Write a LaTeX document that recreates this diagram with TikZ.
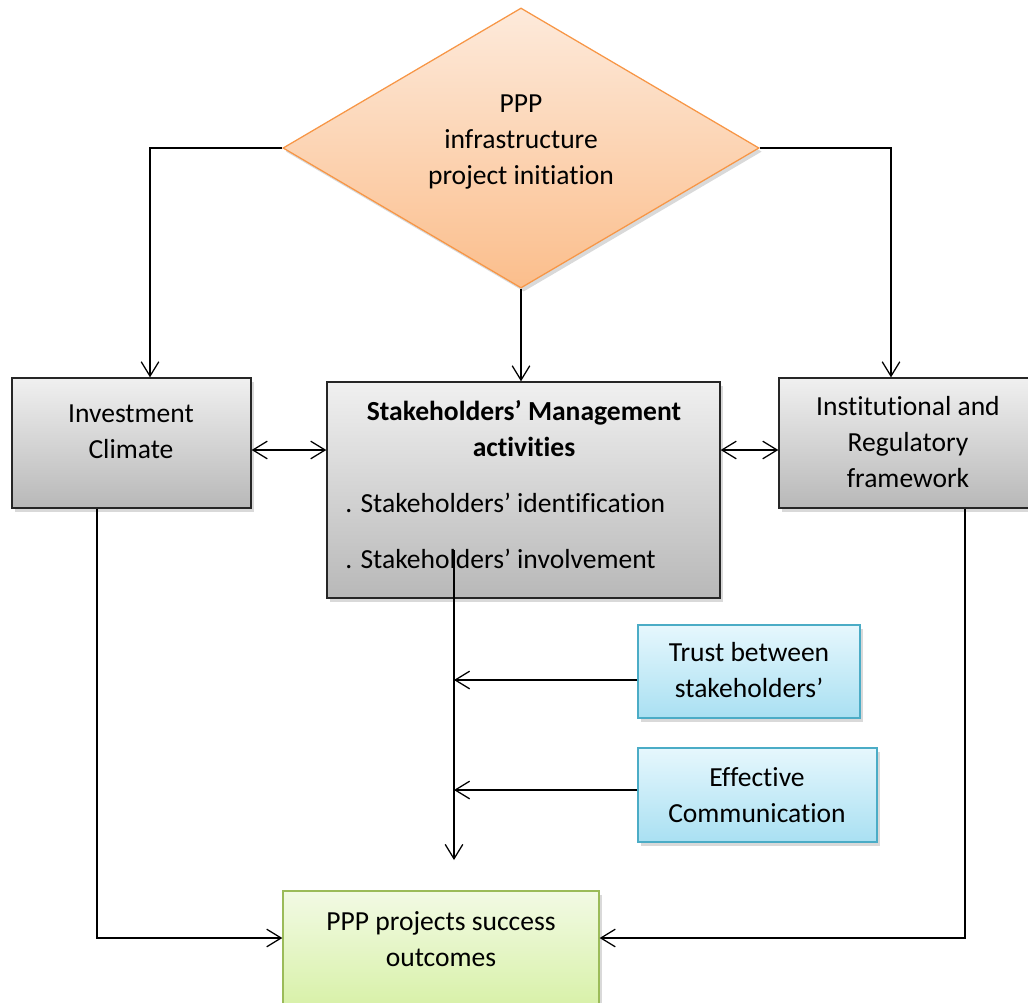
\documentclass[tikz,border=0pt]{standalone}
\usepackage{fontspec}
\setmainfont{Carlito}[Ligatures={NoCommon}]
\usetikzlibrary{arrows.meta,shapes.geometric,shadows}
\definecolor{peachtop}{HTML}{FDEADB}
\definecolor{peachbot}{HTML}{FBBE8C}
\definecolor{peachline}{HTML}{F79646}
\definecolor{graytop}{HTML}{F0F0F0}
\definecolor{graybot}{HTML}{B8B8B8}
\definecolor{bluetop}{HTML}{E6F7FD}
\definecolor{bluebot}{HTML}{A9E0F2}
\definecolor{blueline}{HTML}{4BACC6}
\definecolor{greentop}{HTML}{F2FAE4}
\definecolor{greenbot}{HTML}{D6F0A4}
\definecolor{greenline}{HTML}{9BBB59}
\begin{document}
\begin{tikzpicture}[x=0.025cm,y=-0.025cm,
  every node/.style={font=\fontsize{19.6}{25.6}\selectfont},
  txt/.style={align=center,inner sep=0pt},
  shade/.style={drop shadow={shadow xshift=0.7mm,shadow yshift=-0.9mm,opacity=0.3}},
  graybox/.style={rectangle,draw=black!85,line width=0.9pt,top color=graytop,bottom color=graybot,shade},
  bluebox/.style={rectangle,draw=blueline,line width=0.8pt,top color=bluetop,bottom color=bluebot,shade},
  greenbox/.style={rectangle,draw=greenline,line width=0.9pt,top color=greentop,bottom color=greenbot,shade},
  arr/.style={-{Straight Barb[length=3.6mm,width=4.4mm]},line width=0.9pt},
  darr/.style={{Straight Barb[length=3.6mm,width=4.4mm]}-{Straight Barb[length=3.6mm,width=4.4mm]},line width=0.9pt}]
\useasboundingbox (0,0) rectangle (1028,1002);
\node[diamond,draw=peachline,line width=0.9pt,top color=peachtop,bottom color=peachbot,shade,
  minimum width=11.9cm,minimum height=7cm,inner sep=0pt] (init) at (521,148) {};
\node[txt] (inittxt) at (521,142) {PPP\\infrastructure\\project initiation};
\node[graybox,minimum width=5.975cm,minimum height=3.25cm] (invest) at (131.5,443) {};
\node[txt] (investtxt) at (131,432) {Investment\\Climate};
\node[graybox,minimum width=9.825cm,minimum height=5.4cm] (stake) at (523.5,490) {};
\node[txt,font=\fontsize{19.6}{25.6}\selectfont\bfseries] (staketitle) at (524,429) {Stakeholders’ Management\\activities};
\node[txt,anchor=west] (stakeid) at (345,503) {. Stakeholders’ identification};
\node[txt,anchor=west] (stakein) at (345,559) {. Stakeholders’ involvement};
\node[graybox,minimum width=6.3cm,minimum height=3.25cm] (inst) at (905,443) {};
\node[txt] (insttxt) at (908,442) {Institutional and\\Regulatory\\framework};
\node[bluebox,minimum width=5.55cm,minimum height=2.325cm] (trust) at (749,671.5) {};
\node[txt] (trusttxt) at (749,670) {Trust between\\stakeholders’};
\node[bluebox,minimum width=5.975cm,minimum height=2.35cm] (effect) at (757.5,795) {};
\node[txt] (effecttxt) at (757,795) {Effective\\Communication};
\node[greenbox,minimum width=7.9cm,minimum height=3.1cm] (outcome) at (441,953) {};
\node[txt] (outcometxt) at (441,939) {PPP projects success\\outcomes};
\coordinate (spinetop) at (454,550);
\coordinate (spineend) at (454,860);
\draw[arr] (init.west) -| (150,0 |- invest.north);
\draw[arr] (init.east) -| (891,0 |- inst.north);
\draw[arr] (init.south) -- (init.south |- stake.north);
\draw[darr] (invest.east |- 0,450) -- (stake.west |- 0,450);
\draw[darr] (stake.east |- 0,450) -- (inst.west |- 0,450);
\draw[arr] (97,0 |- invest.south) |- (outcome.west |- 0,938);
\draw[arr] (965,0 |- inst.south) |- (outcome.east |- 0,938);
\draw[arr] (spinetop) -- (spineend);
\draw[arr] (trust.west |- 0,680) -- (spinetop |- 0,680);
\draw[arr] (effect.west |- 0,790) -- (spinetop |- 0,790);
\end{tikzpicture}
\end{document}
